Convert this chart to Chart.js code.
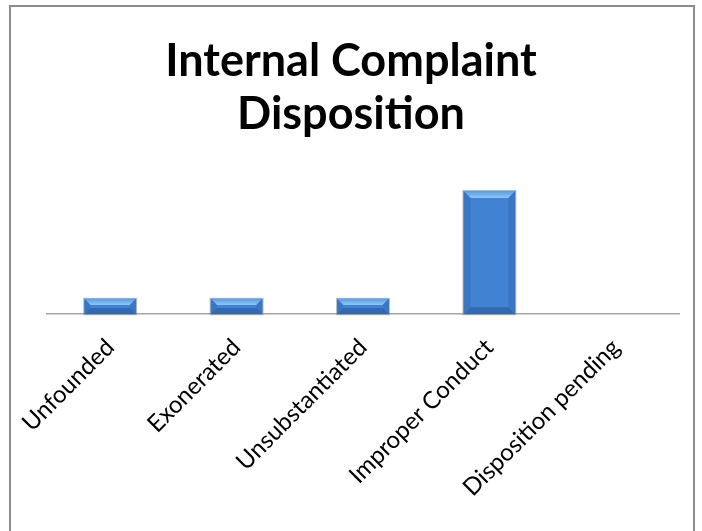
<!DOCTYPE html>
<html>
<head>
<meta charset="utf-8">
<script src="https://cdn.jsdelivr.net/npm/chart.js@4/dist/chart.umd.min.js"></script>
<style>
  html, body { margin: 0; padding: 0; background: #fff; }
  #wrap { position: relative; width: 702px; height: 531px; overflow: hidden; }
  #frame { position: absolute; left: 9px; top: 5px; width: 682px; height: 600px;
           border: 2px solid #8c8c8c; border-bottom: none; }
  #myChart { position: absolute; left: 0; top: 0; }
</style>
</head>
<body>
<div id="wrap">
  <div id="frame"></div>
  <canvas id="myChart" width="702" height="531"></canvas>
</div>
<script>
var categories = ["Unfounded", "Exonerated", "Unsubstantiated", "Improper Conduct", "Disposition pending"];
var counts = [1, 1, 1, 8, 0];
var titleLines = ["Internal Complaint", "Disposition"];

// bevelled look for the bars, drawn over each bar element
var bevel = {
  id: "bevel",
  afterDatasetsDraw: function (chart) {
    var c = chart.ctx;
    chart.getDatasetMeta(0).data.forEach(function (bar) {
      var left = bar.x - bar.width / 2, right = bar.x + bar.width / 2;
      var top = bar.y, bottom = bar.base;
      var h = bottom - top;
      if (h < 1) return;
      var b = Math.min(7, h / 2.5);
      c.save();
      // top facet
      var g = c.createLinearGradient(0, top, 0, top + b);
      g.addColorStop(0, "#5d9be0");
      g.addColorStop(1, "#8fc6f6");
      c.fillStyle = g;
      c.beginPath();
      c.moveTo(left, top); c.lineTo(right, top);
      c.lineTo(right - b, top + b); c.lineTo(left + b, top + b);
      c.closePath(); c.fill();
      // side facets
      c.fillStyle = "#3a76c2";
      c.beginPath();
      c.moveTo(left, top); c.lineTo(left + b, top + b);
      c.lineTo(left + b, bottom - b); c.lineTo(left, bottom);
      c.closePath(); c.fill();
      c.beginPath();
      c.moveTo(right, top); c.lineTo(right - b, top + b);
      c.lineTo(right - b, bottom - b); c.lineTo(right, bottom);
      c.closePath(); c.fill();
      // bottom facet
      c.fillStyle = "#3369b0";
      c.beginPath();
      c.moveTo(left, bottom); c.lineTo(left + b, bottom - b);
      c.lineTo(right - b, bottom - b); c.lineTo(right, bottom);
      c.closePath(); c.fill();
      c.strokeStyle = "rgba(130,140,150,0.6)";
      c.lineWidth = 1;
      c.strokeRect(left - 0.5, top - 0.5, bar.width + 1, h + 1);
      c.restore();
    });
  }
};

var ctx = document.getElementById("myChart").getContext("2d");
var myChart = new Chart(ctx, {
  type: "bar",
  data: {
    labels: categories,
    datasets: [{
      label: "Count",
      data: counts,
      backgroundColor: "#4282d2",
      borderWidth: 0,
      categoryPercentage: 1,
      barPercentage: 0.41
    }]
  },
  options: {
    responsive: false,
    animation: false,
    layout: { padding: { left: 23, right: 23, top: 0, bottom: 18 } },
    plugins: {
      legend: { display: false },
      tooltip: { enabled: false },
      title: {
        display: true,
        text: titleLines,
        color: "#000",
        font: { family: "Lato", size: 45, weight: "bold", lineHeight: 1.18 },
        padding: { top: 35, bottom: 19 }
      }
    },
    scales: {
      y: {
        min: 0,
        max: 10,
        grid: { display: false },
        border: { display: false },
        ticks: { display: false },
        afterFit: function (scale) { scale.width = 24; }
      },
      x: {
        grid: { display: false },
        border: { display: true, color: "#a6a6a6", width: 1.5 },
        ticks: {
          color: "#000",
          font: { family: "Lato", size: 24 },
          maxRotation: 45,
          minRotation: 45,
          padding: 11
        }
      }
    }
  },
  plugins: [bevel]
});
</script>
</body>
</html>
